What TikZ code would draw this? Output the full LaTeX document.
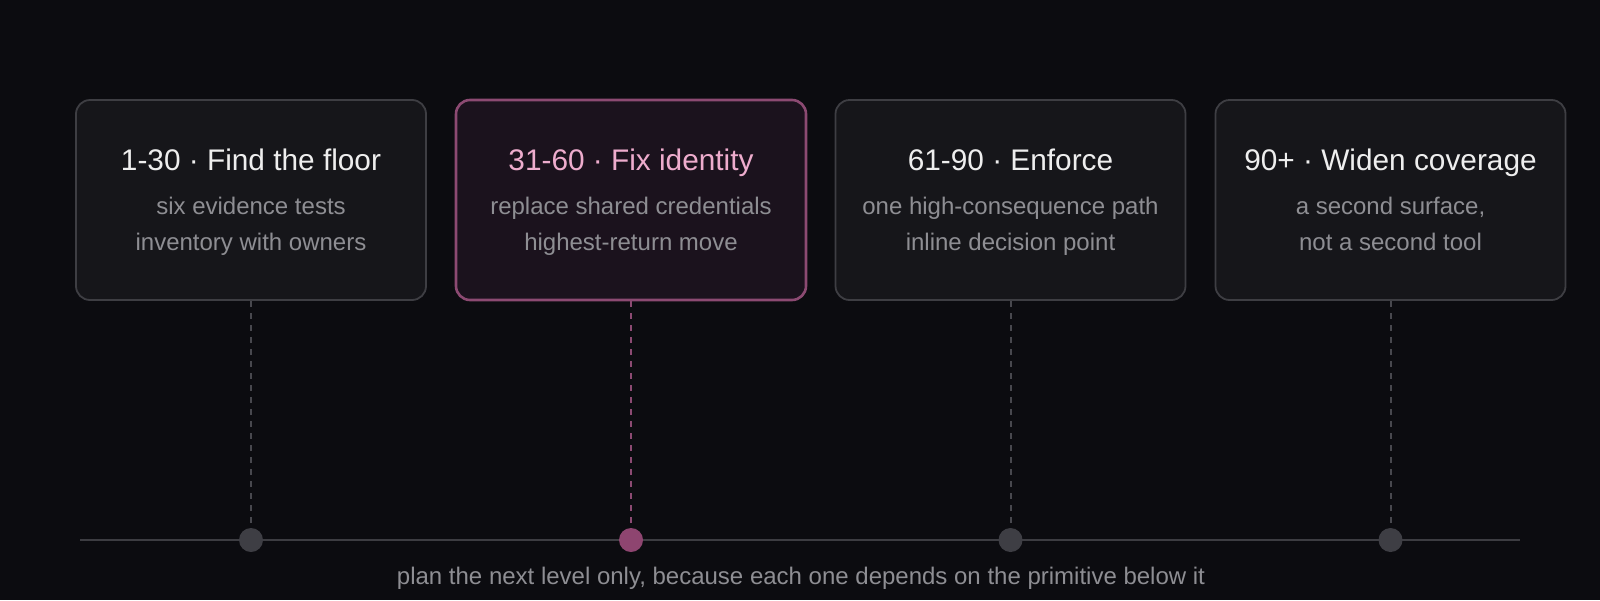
\documentclass[tikz,border=0pt]{standalone}
\usepackage{fontspec}
\setmainfont{Liberation Sans}
\definecolor{bg}{HTML}{0C0C10}
\definecolor{boxfill}{HTML}{16161A}
\definecolor{boxline}{HTML}{3E3E43}
\definecolor{hifill}{HTML}{1B121D}
\definecolor{hiline}{HTML}{8C4A72}
\definecolor{hititle}{HTML}{EEACCD}
\definecolor{titlecol}{HTML}{EEEEEE}
\definecolor{subcol}{HTML}{8E8E93}
\definecolor{dotgray}{HTML}{3E3E44}
\definecolor{dotpink}{HTML}{8E4570}
\definecolor{tlcol}{HTML}{3D3D42}
\definecolor{dashgray}{HTML}{48484E}
\tikzset{
  stagebox/.style={draw=boxline, fill=boxfill, line width=1.8pt, rounded corners=14pt,
    minimum width=350pt, minimum height=200pt, inner sep=0pt},
  hibox/.style={stagebox, draw=hiline, fill=hifill, line width=2.6pt},
  titletext/.style={anchor=base, inner sep=0pt, text=titlecol, font=\fontsize{29.8}{35}\selectfont},
  hititletext/.style={titletext, text=hititle},
  subtext/.style={anchor=base, inner sep=0pt, text=subcol, font=\fontsize{24}{29}\selectfont},
  dotg/.style={circle, fill=dotgray, minimum size=24pt, inner sep=0pt},
  dotp/.style={circle, fill=dotpink, minimum size=24pt, inner sep=0pt},
  linkg/.style={draw=dashgray, line width=2pt, dash pattern=on 6pt off 6pt},
  linkp/.style={draw=hiline, line width=2pt, dash pattern=on 6pt off 6pt},
  timeline/.style={draw=tlcol, line width=1.8pt},
  foot/.style={anchor=base, inner sep=0pt, text=subcol, font=\fontsize{24}{29}\selectfont}
}
\begin{document}
\begin{tikzpicture}[x=1pt,y=-1pt]
\fill[bg] (0,0) rectangle (1600,600);
\useasboundingbox (0,0) rectangle (1600,600);
% boxes
\node[stagebox] (b1) at (251,200) {};
\node[hibox]    (b2) at (631,200) {};
\node[stagebox] (b3) at (1010.5,200) {};
\node[stagebox] (b4) at (1390.5,200) {};
% titles
\node[titletext]   (t1) at (251,170) {1-30 · Find the floor};
\node[hititletext] (t2) at (631,170) {31-60 · Fix identity};
\node[titletext]   (t3) at (1010.5,170) {61-90 · Enforce};
\node[titletext]   (t4) at (1390.5,170) {90+ · Widen coverage};
% subtitles
\node[subtext] (s1a) at (251,214) {six evidence tests};
\node[subtext] (s1b) at (251,250) {inventory with owners};
\node[subtext] (s2a) at (631,214) {replace shared credentials};
\node[subtext] (s2b) at (631,250) {highest-return move};
\node[subtext] (s3a) at (1010.5,214) {one high-consequence path};
\node[subtext] (s3b) at (1010.5,250) {inline decision point};
\node[subtext] (s4a) at (1390.5,214) {a second surface,};
\node[subtext] (s4b) at (1390.5,250) {not a second tool};
% timeline
\coordinate (tlL) at (80,540);
\coordinate (tlR) at (1520,540);
\draw[timeline] (tlL) -- (tlR);
% dots
\node[dotg] (d1) at (251,540) {};
\node[dotp] (d2) at (631,540) {};
\node[dotg] (d3) at (1010.5,540) {};
\node[dotg] (d4) at (1390.5,540) {};
% connectors
\draw[linkg] (b1.south) -- (d1.north);
\draw[linkp] (b2.south) -- (d2.north);
\draw[linkg] (b3.south) -- (d3.north);
\draw[linkg] (b4.south) -- (d4.north);
% footer
\node[foot] (ft) at (801,584) {plan the next level only, because each one depends on the primitive below it};
\end{tikzpicture}
\end{document}
